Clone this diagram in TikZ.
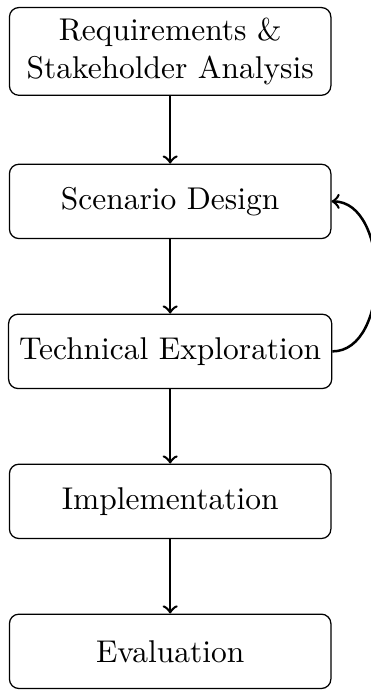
\documentclass[tikz,border=0pt]{standalone}
\usepackage{amsmath}
\usepackage{tikz}
\usetikzlibrary{positioning}

\begin{document}
\begin{tikzpicture}[
    node distance=1.675cm,
    on grid,
    box/.style={draw, rounded corners=3pt, align=center, minimum width=3.59cm, minimum height=0.83cm},
    arrow/.style={->, thick}
  ]
    \node[box] (req) {Requirements \&\\Stakeholder Analysis};
    \node[box, below=of req] (scen) {Scenario Design};
    \node[box, below=of scen] (tech) {Technical Exploration};
    \node[box, below=of tech] (impl) {Implementation};
    \node[box, below=of impl] (eval) {Evaluation};

    \draw[arrow] (req) -- (scen);
    \draw[arrow] (scen) -- (tech);
    \draw[arrow] (tech) -- (impl);
    \draw[arrow] (impl) -- (eval);
    \draw[arrow] (tech.east) to[out=0, in=0] (scen.east);

    % keep the page tight, the loop runs off the right edge
    \pgfresetboundingbox
    \useasboundingbox ([xshift=-2.8pt, yshift=2.2pt]req.north west) rectangle ([xshift=12.3pt, yshift=-0.6pt]eval.south east);
  \end{tikzpicture}
\end{document}
